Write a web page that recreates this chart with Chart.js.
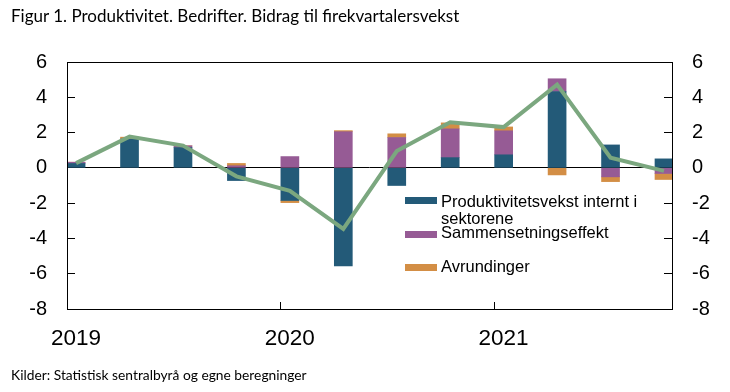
<!DOCTYPE html>
<html>
<head>
<meta charset="utf-8">
<script src="https://cdn.jsdelivr.net/npm/chart.js@4"></script>
<style>
  body { margin: 0; background: #fff; }
  #wrap { position: relative; width: 730px; height: 392px; }
  #title, #source { position: absolute; left: 11px; font-family: Lato, sans-serif; color: #000; white-space: nowrap; }
  #title { top: 5px; font-size: 17px; }
  #source { top: 366px; font-size: 13.8px; }
  .leg { position: absolute; left: 405px; font-family: "Liberation Sans", Arial, sans-serif; font-size: 16.5px; line-height: 17.3px; color: #000; }
  .leg span.sw { position: absolute; left: 0; width: 32px; height: 7px; }
  .leg span.tx { position: absolute; left: 36px; white-space: nowrap; }
</style>
</head>
<body>
<div id="wrap">
  <canvas id="chart" width="730" height="392"></canvas>
  <div id="title">Figur 1. Produktivitet. Bedrifter. Bidrag til firekvartalersvekst</div>
  <div id="source">Kilder: Statistisk sentralbyrå og egne beregninger</div>
  <div id="legend"></div>
</div>
<script>
// kvartaler 2019K1 - 2021K4
const quarters = ['2019K1','2019K2','2019K3','2019K4','2020K1','2020K2','2020K3','2020K4','2021K1','2021K2','2021K3','2021K4'];
const internt = [0.25, 1.63, 1.15, -0.72, -1.85, -5.56, -1.0, 0.58, 0.74, 4.33, 1.30, 0.51];
const sammensetning = [0.07, 0.0, 0.10, 0.12, 0.64, 2.05, 1.72, 1.63, 1.36, 0.72, -0.51, -0.32];
const avrundinger = [0.0, 0.11, 0.0, 0.13, -0.12, 0.06, 0.21, 0.34, 0.22, -0.40, -0.27, -0.34];
const total = [0.27, 1.77, 1.26, -0.48, -1.30, -3.46, 0.95, 2.58, 2.31, 4.72, 0.58, -0.17];
const yearLabels = ['2019', '2020', '2021'];
const yTicks = [6, 4, 2, 0, -2, -4, -6, -8];

const seriesNames = ['Produktivitetsvekst internt i sektorene', 'Sammensetningseffekt', 'Avrundinger'];
const colors = ['#235a78', '#965b95', '#d38e45'];

const pts = arr => arr.map((v, i) => ({ x: i, y: v }));
const yearPos = yearLabels.map((y, i) => i * 4 - 0.17);

// legende (som i originalen, inne i plottet)
const legendRows = [
  { top: 193, swTop: 4, text: 'Produktivitetsvekst internt i<br>sektorene' },
  { top: 224, swTop: 7, text: seriesNames[1] },
  { top: 258, swTop: 6, text: seriesNames[2] }
];
const legendEl = document.getElementById('legend');
legendRows.forEach((r, i) => {
  const d = document.createElement('div');
  d.className = 'leg';
  d.style.top = r.top + 'px';
  d.innerHTML = `<span class="sw" style="top:${r.swTop}px;background:${colors[i]}"></span><span class="tx">${r.text}</span>`;
  legendEl.appendChild(d);
});

const frame = {
  id: 'frame',
  afterDraw(chart) {
    const { ctx, chartArea: a } = chart;
    ctx.save();
    ctx.strokeStyle = '#000';
    ctx.lineWidth = 1;
    ctx.strokeRect(Math.round(a.left) + 0.5, Math.round(a.top) + 0.5, Math.round(a.right - a.left), Math.round(a.bottom - a.top));
    ctx.restore();
  }
};

const tickFont = { family: 'Liberation Sans', size: 20 };
const yAxis = (pos, w) => ({
  type: 'linear',
  position: pos,
  stacked: pos === 'left',
  min: -8, max: 6,
  afterBuildTicks: s => { s.ticks = yTicks.map(v => ({ value: v })); },
  afterFit: s => { s.width = w; },
  grid: {
    drawOnChartArea: pos === 'left',
    color: c => (c.tick && c.tick.value === 0) ? '#000' : 'rgba(0,0,0,0)',
    tickColor: '#000',
    tickLength: -8,
    lineWidth: 1
  },
  border: { display: false },
  ticks: { color: '#000', font: tickFont, padding: 28 }
});

new Chart(document.getElementById('chart'), {
  type: 'bar',
  data: {
    datasets: [
      { type: 'line', label: 'Totalt', data: pts(total), borderColor: '#7ba77f', borderWidth: 4, pointRadius: 0, tension: 0, order: 0, borderCapStyle: 'butt' },
      { label: seriesNames[0], data: pts(internt), backgroundColor: colors[0], barThickness: 18, order: 1 },
      { label: seriesNames[1], data: pts(sammensetning), backgroundColor: colors[1], barThickness: 18, order: 1 },
      { label: seriesNames[2], data: pts(avrundinger), backgroundColor: colors[2], barThickness: 18, order: 1 }
    ]
  },
  options: {
    responsive: false,
    animation: false,
    layout: { padding: { top: 62, left: 0, right: 0, bottom: 0 } },
    plugins: { legend: { display: false }, tooltip: { enabled: false } },
    scales: {
      x: {
        type: 'linear',
        stacked: true,
        offset: false,
        min: -0.17, max: 11.15,
        afterBuildTicks: s => { s.ticks = yearPos.map(v => ({ value: v })); },
        afterFit: s => { s.height = 83; },
        grid: { offset: false, drawOnChartArea: false, tickColor: '#000', tickLength: -7 },
        border: { display: false },
        ticks: { color: '#000', font: { family: 'Liberation Sans', size: 22.5 }, padding: 23, labelOffset: 9, maxRotation: 0, callback: (v, i) => yearLabels[i] }
      },
      y: yAxis('left', 67),
      y2: yAxis('right', 58)
    }
  },
  plugins: [frame]
});
</script>
</body>
</html>
